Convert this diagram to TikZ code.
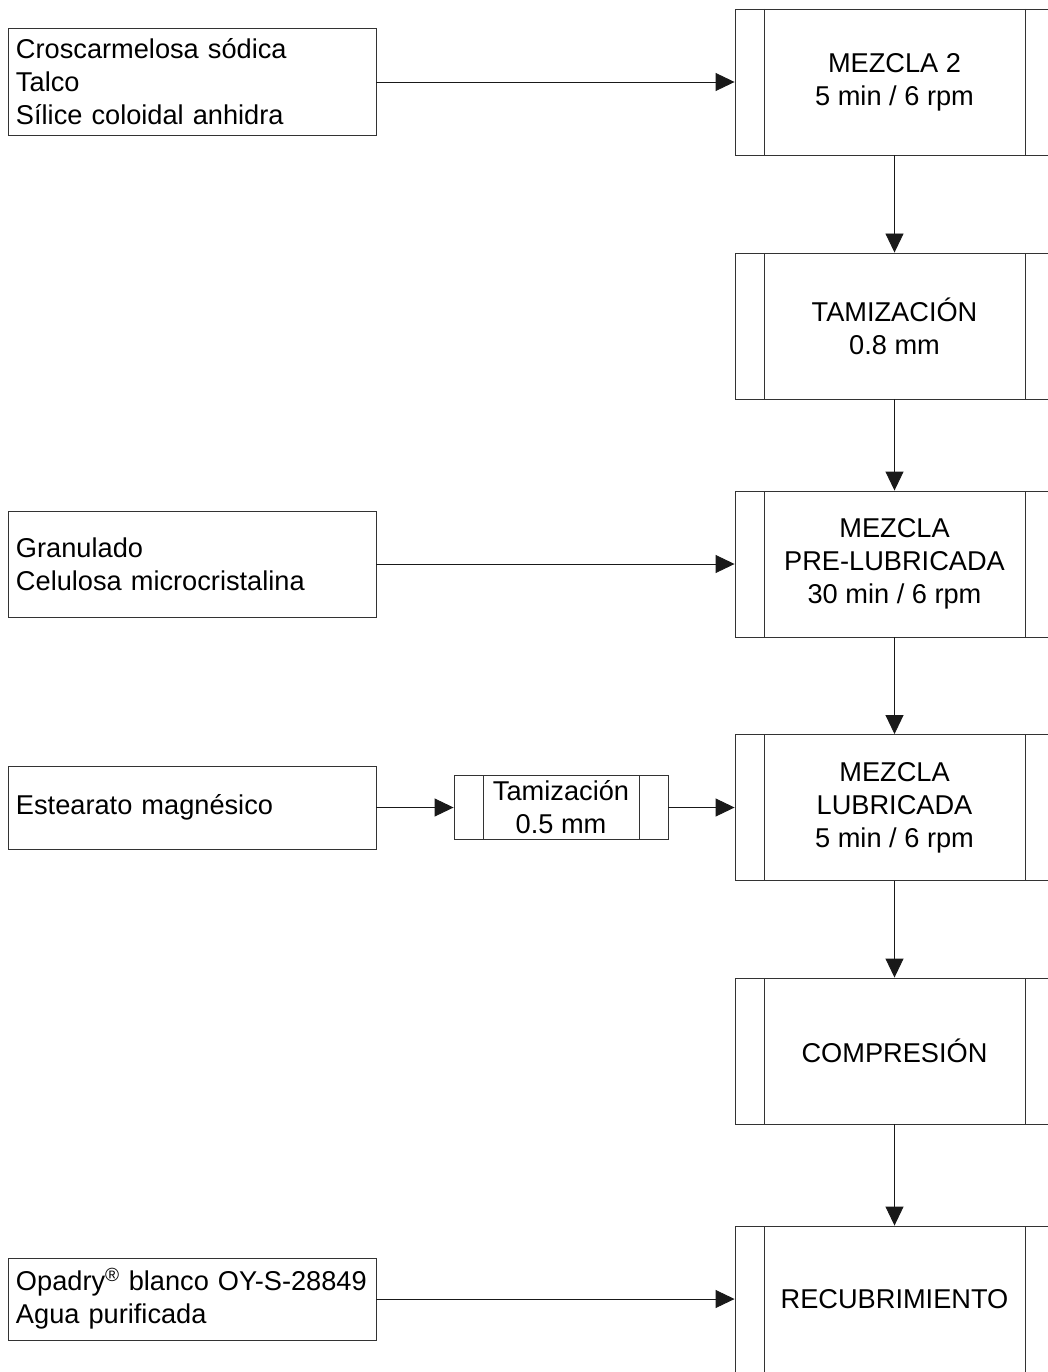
\documentclass[tikz,border=0pt]{standalone}
\usepackage{fontspec}
\setmainfont{Liberation Sans}
\usetikzlibrary{arrows.meta}
\begin{document}
\begin{tikzpicture}[x=1pt,y=1pt,
  line width=0.9pt,
  every node/.style={font=\fontsize{27.2}{33}\selectfont},
  inputbox/.style={draw=black!80, rectangle, minimum width=368pt,
    text width=352pt, inner sep=8pt, align=left},
  procbox/.style={draw=black!80, rectangle, minimum width=#1, inner sep=0pt,
    align=center,
    path picture={
      \draw[black!80] ([xshift=29pt]path picture bounding box.north west)
        -- ([xshift=29pt]path picture bounding box.south west);
      \draw[black!80] ([xshift=-29pt]path picture bounding box.north east)
        -- ([xshift=-29pt]path picture bounding box.south east);}},
  procbox/.default=319pt,
  flow/.style={draw=black!90, -{Triangle[length=19pt,width=18pt]}}
]
\useasboundingbox (0,0) rectangle (1047,-1372);

% main process column
\node[procbox, minimum height=146pt] (mez2) at (894.5,-82) {MEZCLA 2\\5 min / 6 rpm};
\node[procbox, minimum height=146pt] (tam) at (894.5,-326) {TAMIZACIÓN\\0.8 mm};
\node[procbox, minimum height=146pt] (pre) at (894.5,-564) {MEZCLA\\PRE-LUBRICADA\\30 min / 6 rpm};
\node[procbox, minimum height=146pt] (lub) at (894.5,-807.5) {MEZCLA\\LUBRICADA\\5 min / 6 rpm};
\node[procbox, minimum height=146pt] (comp) at (894.5,-1051) {COMPRESIÓN};
\node[procbox, minimum height=146pt] (recub) at (894.5,-1299) {RECUBRIMIENTO};

% materials
\node[inputbox, minimum height=107pt] (in1) at (192,-82) {Croscarmelosa sódica\\Talco\\Sílice coloidal anhidra};
\node[inputbox, minimum height=106pt] (in2) at (192,-564) {Granulado\\Celulosa microcristalina};
\node[inputbox, minimum height=83pt] (in3) at (192,-807.5) {Estearato magnésico};
\node[inputbox, minimum height=82pt] (in4) at (192,-1299) {Opadry\textsuperscript{®} blanco OY-S-28849\\Agua purificada};

% intermediate sieving step
\node[procbox=214pt, minimum height=64pt] (tam2) at (561,-807.5) {Tamización\\0.5 mm};

% connectors
\draw[flow] (in1) -- (mez2);
\draw[flow] (in2) -- (pre);
\draw[flow] (in3) -- (tam2);
\draw[flow] (tam2) -- (lub);
\draw[flow] (in4) -- (recub);
\draw[flow] (mez2) -- (tam);
\draw[flow] (tam) -- (pre);
\draw[flow] (pre) -- (lub);
\draw[flow] (lub) -- (comp);
\draw[flow] (comp) -- (recub);
\end{tikzpicture}
\end{document}
